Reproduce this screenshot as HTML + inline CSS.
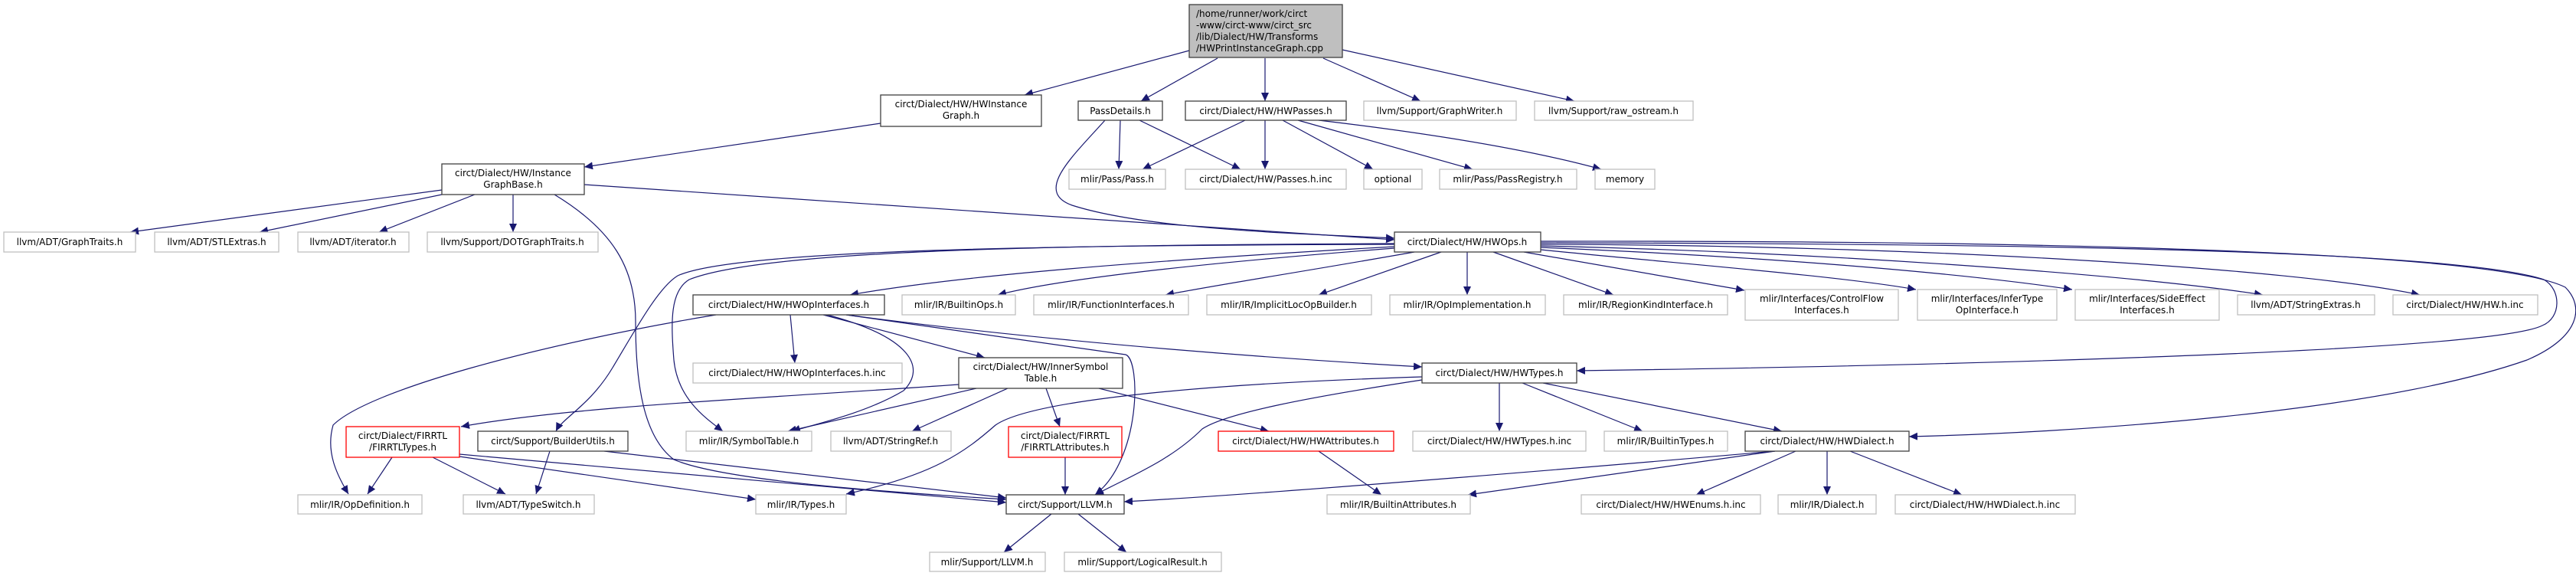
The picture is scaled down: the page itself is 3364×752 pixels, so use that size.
<!DOCTYPE html>
<html><head><meta charset="utf-8"><style>
html,body{margin:0;padding:0;background:#fff;}
svg{display:block;}
text{font-family:"DejaVu Sans","Liberation Sans",sans-serif;font-size:12px;fill:#000;}
.g{fill:#fff;stroke:#bfbfbf;stroke-width:1.3}
.b{fill:#fff;stroke:#404040;stroke-width:1.3}
.r{fill:#fff;stroke:#ff0000;stroke-width:1.3}
.e{fill:none;stroke:#191970;stroke-width:1.2;marker-end:url(#a)}
</style></head><body>
<svg width="3364" height="752" viewBox="0 0 3364 752" xmlns="http://www.w3.org/2000/svg">
<defs><marker id="a" markerUnits="userSpaceOnUse" markerWidth="12" markerHeight="10" refX="11" refY="5" orient="auto"><path d="M0,0 L11,5 L0,10 z" fill="#191970"/></marker></defs>

<path class="e" d="M1553,66 L1338,124"/>
<path class="e" d="M1590,76 L1490,132"/>
<path class="e" d="M1652,76 L1652,132"/>
<path class="e" d="M1728,76 L1855,132"/>
<path class="e" d="M1753,65 L2056,132"/>
<path class="e" d="M1150,161 L763,218"/>
<path class="e" d="M577,248 L170,303"/>
<path class="e" d="M577,254 L339,303"/>
<path class="e" d="M620,254 L495,303"/>
<path class="e" d="M670,254 L670,303"/>
<path class="e" d="M763,241 L1821,313"/>
<path class="e" d="M1443,157 C1400,205 1350,250 1400,268 C1500,300 1700,305 1821,311"/>
<path class="e" d="M724,254 C800,300 830,350 830,420 C830,500 840,570 880,600 C950,630 1200,645 1314,652"/>
<path class="e" d="M1463,157 L1461,221"/>
<path class="e" d="M1488,157 L1620,221"/>
<path class="e" d="M1626,157 L1492,221"/>
<path class="e" d="M1652,157 L1652,221"/>
<path class="e" d="M1675,157 L1793,221"/>
<path class="e" d="M1695,157 L1923,221"/>
<path class="e" d="M1722,157 Q1960,185 2091,221"/>
<path class="e" d="M1821,322 C1500,340 1250,360 1110,385"/>
<path class="e" d="M1821,324 C1550,345 1380,365 1303,385"/>
<path class="e" d="M1847,329 C1700,355 1600,370 1522,385"/>
<path class="e" d="M1882,329 L1722,385"/>
<path class="e" d="M1916,329 L1916,385"/>
<path class="e" d="M1950,329 L2107,385"/>
<path class="e" d="M1990,329 L2278,379"/>
<path class="e" d="M2012,326 C2200,345 2400,360 2502,378"/>
<path class="e" d="M2012,323 C2300,335 2550,355 2706,378"/>
<path class="e" d="M2012,321 C2400,330 2800,360 2955,385"/>
<path class="e" d="M2012,319 C2500,320 3000,350 3160,385"/>
<path class="e" d="M2012,317 C2600,318 3200,325 3322,365 C3345,378 3345,415 3320,425 C3250,460 2500,478 2059,484"/>
<path class="e" d="M2012,315 C2600,314 3250,325 3350,375 C3375,400 3370,440 3300,470 C3100,540 2700,565 2493,570"/>
<path class="e" d="M1821,318 C1400,320 1000,325 900,365 C875,380 876,420 880,470 C885,520 920,545 944,563"/>
<path class="e" d="M1821,319 C1400,320 960,325 885,360 C860,375 830,430 800,480 C770,530 735,545 726,563"/>
<path class="e" d="M1032,411 L1038,474"/>
<path class="e" d="M1075,411 L1286,467"/>
<path class="e" d="M1080,411 C1190,440 1210,480 1180,510 C1130,540 1060,555 1034,563"/>
<path class="e" d="M1105,411 L1470,463 C1490,470 1490,600 1430,646"/>
<path class="e" d="M1105,411 C1400,450 1700,470 1857,479"/>
<path class="e" d="M935,411 C700,450 480,510 435,555 C425,590 440,620 455,645"/>
<path class="e" d="M1252,502 C1000,520 750,530 602,557"/>
<path class="e" d="M1275,507 L1029,563"/>
<path class="e" d="M1316,507 L1191,563"/>
<path class="e" d="M1366,507 L1384,557"/>
<path class="e" d="M1435,507 L1657,563"/>
<path class="e" d="M1857,492 C1600,500 1350,520 1300,555 C1260,590 1220,620 1105,645"/>
<path class="e" d="M1857,496 C1700,520 1600,540 1570,560 C1530,600 1480,620 1430,646"/>
<path class="e" d="M1958,500 L1958,563"/>
<path class="e" d="M1988,500 L2145,563"/>
<path class="e" d="M2015,500 L2327,563"/>
<path class="e" d="M2318,589 C1900,625 1600,648 1468,655"/>
<path class="e" d="M2318,589 L1917,646"/>
<path class="e" d="M2345,589 L2215,646"/>
<path class="e" d="M2386,589 L2386,646"/>
<path class="e" d="M2416,589 L2562,646"/>
<path class="e" d="M1722,589 L1804,646"/>
<path class="e" d="M512,597 L480,645"/>
<path class="e" d="M565,597 L660,645"/>
<path class="e" d="M600,593 L1314,656"/>
<path class="e" d="M600,596 L987,652"/>
<path class="e" d="M789,589 L1314,650"/>
<path class="e" d="M718,589 L700,645"/>
<path class="e" d="M1391,597 L1391,646"/>
<path class="e" d="M1373,671 L1311,721"/>
<path class="e" d="M1408,671 L1471,721"/>

<rect x="1553" y="6" width="200" height="69" fill="#bfbfbf" stroke="#404040" stroke-width="1.3"/>
<text x="1562" y="22">/home/runner/work/circt</text>
<text x="1562" y="37">-www/circt-www/circt_src</text>
<text x="1562" y="52">/lib/Dialect/HW/Transforms</text>
<text x="1562" y="67">/HWPrintInstanceGraph.cpp</text>

<rect class="b" x="1150" y="124" width="210" height="41"/>
<text x="1255" y="140" text-anchor="middle">circt/Dialect/HW/HWInstance</text>
<text x="1255" y="155" text-anchor="middle">Graph.h</text>
<rect class="b" x="1408" y="132" width="110" height="25"/><text x="1463" y="149" text-anchor="middle">PassDetails.h</text>
<rect class="b" x="1548" y="132" width="210" height="25"/><text x="1653" y="149" text-anchor="middle">circt/Dialect/HW/HWPasses.h</text>
<rect class="g" x="1781" y="132" width="199" height="25"/><text x="1880" y="149" text-anchor="middle">llvm/Support/GraphWriter.h</text>
<rect class="g" x="2004" y="132" width="207" height="25"/><text x="2107" y="149" text-anchor="middle">llvm/Support/raw_ostream.h</text>

<rect class="b" x="577" y="214" width="186" height="40"/>
<text x="670" y="230" text-anchor="middle">circt/Dialect/HW/Instance</text>
<text x="670" y="245" text-anchor="middle">GraphBase.h</text>
<rect class="g" x="1396" y="221" width="126" height="26"/><text x="1459" y="238" text-anchor="middle">mlir/Pass/Pass.h</text>
<rect class="g" x="1548" y="221" width="210" height="26"/><text x="1653" y="238" text-anchor="middle">circt/Dialect/HW/Passes.h.inc</text>
<rect class="g" x="1781" y="221" width="76" height="26"/><text x="1819" y="238" text-anchor="middle">optional</text>
<rect class="g" x="1880" y="221" width="179" height="26"/><text x="1969" y="238" text-anchor="middle">mlir/Pass/PassRegistry.h</text>
<rect class="g" x="2083" y="221" width="78" height="26"/><text x="2122" y="238" text-anchor="middle">memory</text>

<rect class="g" x="5" y="303" width="172" height="26"/><text x="91" y="320" text-anchor="middle">llvm/ADT/GraphTraits.h</text>
<rect class="g" x="202" y="303" width="162" height="26"/><text x="283" y="320" text-anchor="middle">llvm/ADT/STLExtras.h</text>
<rect class="g" x="389" y="303" width="145" height="26"/><text x="461" y="320" text-anchor="middle">llvm/ADT/iterator.h</text>
<rect class="g" x="558" y="303" width="223" height="26"/><text x="669" y="320" text-anchor="middle">llvm/Support/DOTGraphTraits.h</text>
<rect class="b" x="1821" y="303" width="191" height="26"/><text x="1916" y="320" text-anchor="middle">circt/Dialect/HW/HWOps.h</text>

<rect class="b" x="905" y="385" width="250" height="26"/><text x="1030" y="402" text-anchor="middle">circt/Dialect/HW/HWOpInterfaces.h</text>
<rect class="g" x="1178" y="385" width="148" height="26"/><text x="1252" y="402" text-anchor="middle">mlir/IR/BuiltinOps.h</text>
<rect class="g" x="1350" y="385" width="202" height="26"/><text x="1451" y="402" text-anchor="middle">mlir/IR/FunctionInterfaces.h</text>
<rect class="g" x="1576" y="385" width="215" height="26"/><text x="1683" y="402" text-anchor="middle">mlir/IR/ImplicitLocOpBuilder.h</text>
<rect class="g" x="1815" y="385" width="203" height="26"/><text x="1916" y="402" text-anchor="middle">mlir/IR/OpImplementation.h</text>
<rect class="g" x="2042" y="385" width="214" height="26"/><text x="2149" y="402" text-anchor="middle">mlir/IR/RegionKindInterface.h</text>
<rect class="g" x="2279" y="378" width="200" height="40"/>
<text x="2379" y="394" text-anchor="middle">mlir/Interfaces/ControlFlow</text><text x="2379" y="409" text-anchor="middle">Interfaces.h</text>
<rect class="g" x="2504" y="378" width="182" height="40"/>
<text x="2595" y="394" text-anchor="middle">mlir/Interfaces/InferType</text><text x="2595" y="409" text-anchor="middle">OpInterface.h</text>
<rect class="g" x="2710" y="378" width="188" height="40"/>
<text x="2804" y="394" text-anchor="middle">mlir/Interfaces/SideEffect</text><text x="2804" y="409" text-anchor="middle">Interfaces.h</text>
<rect class="g" x="2922" y="385" width="179" height="26"/><text x="3011" y="402" text-anchor="middle">llvm/ADT/StringExtras.h</text>
<rect class="g" x="3125" y="385" width="189" height="26"/><text x="3219" y="402" text-anchor="middle">circt/Dialect/HW/HW.h.inc</text>

<rect class="g" x="905" y="474" width="273" height="26"/><text x="1041" y="491" text-anchor="middle">circt/Dialect/HW/HWOpInterfaces.h.inc</text>
<rect class="b" x="1252" y="467" width="214" height="40"/>
<text x="1359" y="483" text-anchor="middle">circt/Dialect/HW/InnerSymbol</text><text x="1359" y="498" text-anchor="middle">Table.h</text>
<rect class="b" x="1857" y="474" width="202" height="26"/><text x="1958" y="491" text-anchor="middle">circt/Dialect/HW/HWTypes.h</text>

<rect class="r" x="452" y="557" width="148" height="40"/>
<text x="526" y="573" text-anchor="middle">circt/Dialect/FIRRTL</text><text x="526" y="588" text-anchor="middle">/FIRRTLTypes.h</text>
<rect class="b" x="624" y="563" width="196" height="26"/><text x="722" y="580" text-anchor="middle">circt/Support/BuilderUtils.h</text>
<rect class="g" x="896" y="563" width="164" height="26"/><text x="978" y="580" text-anchor="middle">mlir/IR/SymbolTable.h</text>
<rect class="g" x="1085" y="563" width="157" height="26"/><text x="1163" y="580" text-anchor="middle">llvm/ADT/StringRef.h</text>
<rect class="r" x="1317" y="557" width="148" height="40"/>
<text x="1391" y="573" text-anchor="middle">circt/Dialect/FIRRTL</text><text x="1391" y="588" text-anchor="middle">/FIRRTLAttributes.h</text>
<rect class="r" x="1591" y="563" width="229" height="26"/><text x="1705" y="580" text-anchor="middle">circt/Dialect/HW/HWAttributes.h</text>
<rect class="g" x="1845" y="563" width="226" height="26"/><text x="1958" y="580" text-anchor="middle">circt/Dialect/HW/HWTypes.h.inc</text>
<rect class="g" x="2095" y="563" width="161" height="26"/><text x="2175" y="580" text-anchor="middle">mlir/IR/BuiltinTypes.h</text>
<rect class="b" x="2279" y="563" width="214" height="26"/><text x="2386" y="580" text-anchor="middle">circt/Dialect/HW/HWDialect.h</text>

<rect class="g" x="389" y="646" width="162" height="25"/><text x="470" y="663" text-anchor="middle">mlir/IR/OpDefinition.h</text>
<rect class="g" x="605" y="646" width="171" height="25"/><text x="690" y="663" text-anchor="middle">llvm/ADT/TypeSwitch.h</text>
<rect class="g" x="987" y="646" width="118" height="25"/><text x="1046" y="663" text-anchor="middle">mlir/IR/Types.h</text>
<rect class="b" x="1314" y="646" width="154" height="25"/><text x="1391" y="663" text-anchor="middle">circt/Support/LLVM.h</text>
<rect class="g" x="1733" y="646" width="187" height="25"/><text x="1826" y="663" text-anchor="middle">mlir/IR/BuiltinAttributes.h</text>
<rect class="g" x="2065" y="646" width="234" height="25"/><text x="2182" y="663" text-anchor="middle">circt/Dialect/HW/HWEnums.h.inc</text>
<rect class="g" x="2322" y="646" width="128" height="25"/><text x="2386" y="663" text-anchor="middle">mlir/IR/Dialect.h</text>
<rect class="g" x="2475" y="646" width="235" height="25"/><text x="2592" y="663" text-anchor="middle">circt/Dialect/HW/HWDialect.h.inc</text>

<rect class="g" x="1214" y="721" width="151" height="25"/><text x="1289" y="738" text-anchor="middle">mlir/Support/LLVM.h</text>
<rect class="g" x="1390" y="721" width="205" height="25"/><text x="1492" y="738" text-anchor="middle">mlir/Support/LogicalResult.h</text>
</svg>
</body></html>
